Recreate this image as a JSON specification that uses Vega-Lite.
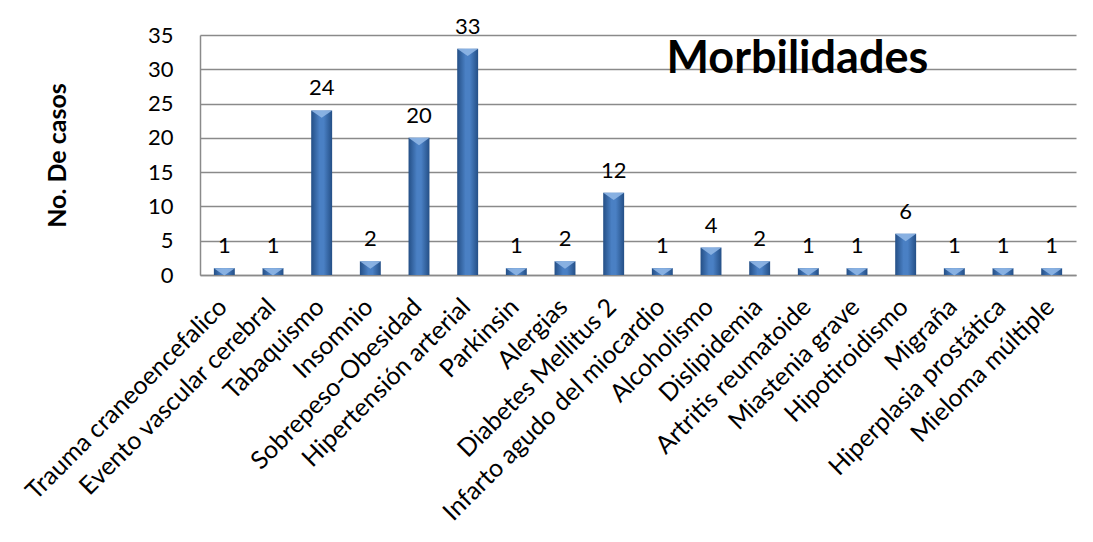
{
  "$schema": "https://vega.github.io/schema/vega-lite/v6.json",
  "width": 876,
  "height": 240,
  "autosize": {"type": "none"},
  "padding": {"left": 200, "top": 35, "right": 17, "bottom": 267},
  "background": "white",
  "data": {
    "values": [
      {"morbilidad": "Trauma craneoencefalico", "casos": 1},
      {"morbilidad": "Evento vascular cerebral", "casos": 1},
      {"morbilidad": "Tabaquismo", "casos": 24},
      {"morbilidad": "Insomnio", "casos": 2},
      {"morbilidad": "Sobrepeso-Obesidad", "casos": 20},
      {"morbilidad": "Hipertensión arterial", "casos": 33},
      {"morbilidad": "Parkinsin", "casos": 1},
      {"morbilidad": "Alergias", "casos": 2},
      {"morbilidad": "Diabetes Mellitus 2", "casos": 12},
      {"morbilidad": "Infarto agudo del miocardio", "casos": 1},
      {"morbilidad": "Alcoholismo", "casos": 4},
      {"morbilidad": "Dislipidemia", "casos": 2},
      {"morbilidad": "Artritis reumatoide", "casos": 1},
      {"morbilidad": "Miastenia grave", "casos": 1},
      {"morbilidad": "Hipotiroidismo", "casos": 6},
      {"morbilidad": "Migraña", "casos": 1},
      {"morbilidad": "Hiperplasia prostática", "casos": 1},
      {"morbilidad": "Mieloma múltiple", "casos": 1}
    ]
  },
  "encoding": {
    "x": {
      "field": "morbilidad",
      "type": "nominal",
      "sort": null,
      "scale": {"paddingInner": 0.57, "paddingOuter": 0.285},
      "axis": {
        "title": null,
        "labelAngle": -45,
        "labelFont": "Lato",
        "labelFontSize": 25,
        "labelColor": "black",
        "labelPadding": 19,
        "labelOffset": -10,
        "ticks": false,
        "domainColor": "#8a8a8a",
        "domainWidth": 1.5,
        "labelLimit": 0
      }
    },
    "y": {
      "field": "casos",
      "type": "quantitative",
      "scale": {"domain": [0, 35], "nice": false},
      "axis": {
        "title": "No. De casos",
        "titleFont": "Lato",
        "titleFontSize": 25,
        "titleFontWeight": "bold",
        "titleColor": "black",
        "titleX": -143,
        "titleY": 120,
        "titleAngle": -90,
        "titleAlign": "center",
        "titleBaseline": "middle",
        "values": [0, 5, 10, 15, 20, 25, 30, 35],
        "labelFont": "Lato",
        "labelFontSize": 22,
        "labelColor": "black",
        "labelPadding": 27,
        "ticks": false,
        "grid": true,
        "gridColor": "#8a8a8a",
        "gridWidth": 1.5,
        "domainColor": "#8a8a8a",
        "domainWidth": 1.5
      }
    }
  },
  "layer": [
    {
      "mark": {
        "type": "bar",
        "color": {
          "gradient": "linear",
          "x1": 0, "x2": 1, "y1": 0, "y2": 0,
          "stops": [
            {"offset": 0, "color": "#244f86"},
            {"offset": 0.4, "color": "#4a80c4"},
            {"offset": 0.6, "color": "#4a80c4"},
            {"offset": 1, "color": "#244f86"}
          ]
        }
      }
    },
    {
      "mark": {
        "type": "point",
        "shape": "M-1,0L1,0L0,0.7Z",
        "size": 441,
        "filled": true,
        "color": "#8fb6e6",
        "opacity": 0.9
      }
    },
    {
      "mark": {
        "type": "text",
        "font": "Lato",
        "fontSize": 22,
        "color": "black",
        "baseline": "middle",
        "dy": -22
      },
      "encoding": {"text": {"field": "casos", "type": "quantitative"}}
    },
    {
      "transform": [{"filter": "datum.morbilidad === 'Artritis reumatoide'"}],
      "mark": {
        "type": "text",
        "font": "Lato",
        "fontSize": 45,
        "fontWeight": "bold",
        "color": "black",
        "align": "center",
        "baseline": "alphabetic",
        "dx": -11,
        "dy": 4
      },
      "encoding": {
        "y": {"datum": 30},
        "text": {"value": "Morbilidades"}
      }
    }
  ],
  "config": {"view": {"stroke": null}}
}
